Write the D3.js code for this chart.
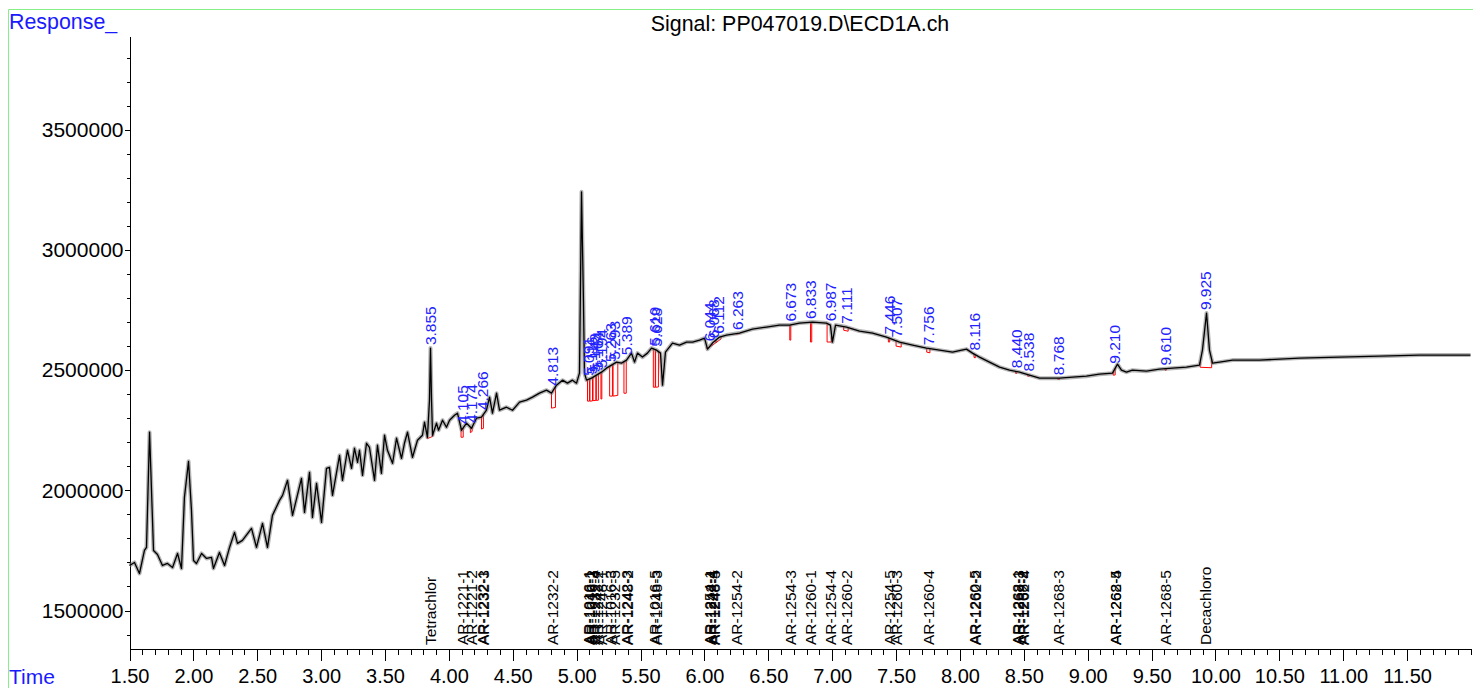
<!DOCTYPE html>
<html lang="en">
<head>
<meta charset="UTF-8">
<title>Signal: PP047019.D\ECD1A.ch</title>
<script src="https://d3js.org/d3.v7.min.js"></script>
<style>
    body {
        margin: 0;
        background: #fff;
    }

    svg {
        display: block;
        font-family: "Liberation Sans", Arial, sans-serif;
    }

    .axis text {
        font-family: "Liberation Sans", Arial, sans-serif;
        font-size: 20px;
        fill: #000;
    }

    .y-axis text {
        font-size: 21px;
    }

    .axis path,
    .axis line {
        stroke: #000;
        shape-rendering: crispEdges;
    }

    .trace {
        fill: none;
        stroke: #000;
        stroke-width: 1.3px;
        stroke-linejoin: round;
    }

    /* grey fuzz around the trace, like the noisy original */
    .trace-halo {
        fill: none;
        stroke: #777;
        stroke-opacity: 0.55;
        stroke-width: 4px;
        stroke-linejoin: round;
    }

    .integration {
        fill: none;
        stroke: #ff0000;
        stroke-width: 1px;
    }

    .rt-label {
        font-size: 15.5px;
        fill: #2222ff;
    }

    .compound-label {
        font-size: 15.5px;
        fill: #000;
    }
</style>
</head>
<body>
<svg id="chart" width="1473" height="688"></svg>

<script>
    // signal trace (time in min, response)
    const timeValues = [
        1.500, 1.539, 1.578, 1.617, 1.633, 1.657, 1.688, 1.719, 1.758, 1.797,
        1.837, 1.876, 1.907, 1.930, 1.962, 1.985, 2.001, 2.024, 2.064, 2.103,
        2.142, 2.157, 2.204, 2.244, 2.283, 2.322, 2.345, 2.384, 2.455, 2.494,
        2.541, 2.580, 2.619, 2.674, 2.698, 2.737, 2.776, 2.846, 2.870, 2.909,
        2.932, 2.964, 3.003, 3.042, 3.065, 3.089, 3.144, 3.167, 3.206, 3.238,
        3.261, 3.285, 3.300, 3.324, 3.355, 3.378, 3.418, 3.441, 3.472, 3.496,
        3.519, 3.559, 3.590, 3.629, 3.652, 3.676, 3.715, 3.754, 3.793, 3.809,
        3.832, 3.848, 3.856, 3.864, 3.872, 3.903, 3.919, 3.950, 3.981, 4.005,
        4.044, 4.067, 4.099, 4.138, 4.177, 4.216, 4.255, 4.294, 4.318, 4.341,
        4.373, 4.396, 4.451, 4.498, 4.553, 4.607, 4.654, 4.709, 4.764, 4.803,
        4.842, 4.889, 4.928, 4.967, 4.999, 5.022, 5.038, 5.053, 5.061, 5.077,
        5.116, 5.155, 5.194, 5.233, 5.273, 5.312, 5.351, 5.390, 5.429, 5.453,
        5.476, 5.515, 5.554, 5.586, 5.625, 5.656, 5.672, 5.695, 5.750, 5.805,
        5.860, 5.907, 5.962, 6.001, 6.024, 6.063, 6.118, 6.173, 6.274, 6.376,
        6.486, 6.588, 6.666, 6.744, 6.846, 6.955, 6.986, 7.002, 7.026, 7.112,
        7.214, 7.316, 7.425, 7.527, 7.629, 7.738, 7.840, 7.942, 8.051, 8.098,
        8.153, 8.231, 8.310, 8.388, 8.466, 8.544, 8.623, 8.701, 8.779, 8.881,
        8.990, 9.092, 9.194, 9.233, 9.264, 9.303, 9.350, 9.460, 9.562, 9.663,
        9.773, 9.875, 9.898, 9.930, 9.953, 9.977, 10.031, 10.133, 10.344, 10.658,
        10.971, 11.284, 11.597, 11.996
    ];
    const responseValues = [
        1687500, 1700000, 1654100, 1750000, 1762500, 2241700, 1750000, 1733300, 1687500, 1695800,
        1679100, 1737500, 1675000, 1970800, 2120800, 1916700, 1708300, 1695800, 1737500, 1716700,
        1720800, 1675000, 1741700, 1687500, 1762500, 1825000, 1779200, 1791700, 1841700, 1762500,
        1862500, 1762500, 1895800, 1958300, 1979200, 2041700, 1895800, 2050000, 1908300, 2075000,
        1887500, 2029200, 1866700, 2091700, 2095800, 1979200, 2145800, 2041700, 2166700, 2091700,
        2175000, 2116700, 2166700, 2062500, 2195800, 2179200, 2041700, 2187500, 2070800, 2229200,
        2166700, 2112500, 2216700, 2133300, 2195800, 2241700, 2137500, 2208300, 2229200, 2283300,
        2220800, 2375000, 2591700, 2375000, 2229200, 2279200, 2250000, 2291700, 2262500, 2291700,
        2312500, 2320800, 2250000, 2279200, 2258300, 2300000, 2304200, 2333300, 2387500, 2320800,
        2404200, 2333300, 2345800, 2333300, 2366700, 2375000, 2387500, 2404200, 2416700, 2404200,
        2437500, 2458300, 2445800, 2458300, 2445800, 2487500, 3241800, 2791700, 2487500, 2458300,
        2466700, 2479200, 2491700, 2508300, 2520800, 2533300, 2529200, 2541700, 2570800, 2533300,
        2570800, 2554200, 2570800, 2591700, 2583300, 2570800, 2437500, 2575000, 2612500, 2604200,
        2616700, 2616700, 2625000, 2633300, 2587500, 2612500, 2637500, 2645800, 2654200, 2670900,
        2679200, 2687500, 2687500, 2695800, 2700000, 2695800, 2687500, 2616700, 2687500, 2679200,
        2662500, 2654200, 2637500, 2616700, 2604200, 2591700, 2583300, 2575000, 2587500, 2570800,
        2554200, 2533300, 2512500, 2500000, 2491700, 2479200, 2466700, 2466700, 2466700, 2470800,
        2475000, 2483300, 2487500, 2525000, 2500000, 2491700, 2500000, 2495800, 2504200, 2508300,
        2512500, 2520800, 2583300, 2737500, 2583300, 2529200, 2533300, 2541700, 2541700, 2550000,
        2554200, 2558300, 2562500, 2562500
    ];

    // integrated peaks: retention time, baseline start/end time and response
    const peakRT = [3.855, 4.105, 4.174, 4.266, 4.813, 5.091, 5.116, 5.143, 5.164, 5.194,
        5.263, 5.293, 5.389, 5.610, 5.628, 6.044, 6.068, 6.112, 6.263, 6.673,
        6.833, 6.987, 7.111, 7.446, 7.507, 7.756, 8.116, 8.440, 8.538, 8.768,
        9.210, 9.610, 9.925];
    const peakStart = [3.830, 4.095, 4.168, 4.255, 4.803, 5.085, 5.104, 5.128, 5.154, 5.190,
        5.258, 5.285, 5.370, 5.600, 5.618, 6.020, 6.060, 6.090, 6.250, 6.668,
        6.830, 6.960, 7.090, 7.440, 7.500, 7.740, 8.110, 8.435, 8.530, 8.765,
        9.200, 9.605, 9.880];
    const peakEnd = [3.875, 4.112, 4.182, 4.270, 4.834, 5.100, 5.124, 5.150, 5.170, 5.197,
        5.280, 5.322, 5.388, 5.615, 5.640, 6.060, 6.090, 6.130, 6.275, 6.676,
        6.840, 6.995, 7.125, 7.450, 7.540, 7.765, 8.120, 8.445, 8.545, 8.780,
        9.215, 9.615, 9.970];
    const baseStart = [2215000, 2221000, 2240000, 2255000, 2342000, 2371000, 2371000, 2373000, 2374000, 2380000,
        2392000, 2392000, 2404000, 2429000, 2429000, 2588000, 2603000, 2614000, 2650000, 2625000,
        2617000, 2617000, 2666000, 2617000, 2600000, 2575000, 2553000, 2487000, 2475000, 2462000,
        2479000, 2500000, 2512000];
    const baseEnd = [2225000, 2221000, 2245000, 2258000, 2345000, 2371000, 2372000, 2374000, 2375000, 2380000,
        2392000, 2395000, 2404000, 2429000, 2430000, 2603000, 2614000, 2630000, 2652000, 2625000,
        2617000, 2617000, 2662000, 2617000, 2596000, 2572000, 2551000, 2486000, 2475000, 2462000,
        2480000, 2500000, 2510000];

    // expected compound windows (bottom labels)
    const compoundNames = ["Tetrachlor", "AR-1221-1", "AR-1221-2", "AR-1232-1", "AR-1232-3", "AR-1232-2",
        "AR-1016-1", "AR-1242-1", "AR-1016-2", "AR-1232-4", "AR-1242-2", "AR-1248-1",
        "AR-1016-3", "AR-1232-5", "AR-1242-3", "AR-1248-2", "AR-1016-5", "AR-1248-3",
        "AR-1254-1", "AR-1242-4", "AR-1248-4", "AR-1248-5", "AR-1254-2", "AR-1254-3",
        "AR-1260-1", "AR-1254-4", "AR-1260-2", "AR-1254-5", "AR-1260-3", "AR-1260-4",
        "AR-1260-5", "AR-1262-2", "AR-1268-1", "AR-1262-3", "AR-1268-2", "AR-1262-4",
        "AR-1268-3", "AR-1262-5", "AR-1268-4", "AR-1268-5", "Decachloro"];
    const compoundRT = [3.855, 4.105, 4.174, 4.266, 4.272, 4.813,
        5.091, 5.100, 5.116, 5.143, 5.164, 5.194,
        5.263, 5.293, 5.389, 5.395, 5.610, 5.628,
        6.044, 6.050, 6.068, 6.080, 6.250, 6.673,
        6.833, 6.987, 7.111, 7.446, 7.507, 7.756,
        8.116, 8.122, 8.450, 8.460, 8.490, 8.495,
        8.768, 9.215, 9.220, 9.610, 9.925];

    // axes
    const xTickValues = [1.5, 2.0, 2.5, 3.0, 3.5, 4.0, 4.5, 5.0, 5.5, 6.0, 6.5, 7.0, 7.5, 8.0, 8.5, 9.0, 9.5, 10.0, 10.5, 11.0, 11.5];
    const xMinorValues = d3.range(15, 121).map(d => d / 10);
    const yTickValues = [1500000, 2000000, 2500000, 3000000, 3500000];
    const yMinorValues = d3.range(14, 39).map(d => d * 100000);

    const svg = d3.select("#chart");

    const x = d3.scaleLinear().domain([1.5, 12.0]).range([129.5, 1471]);
    const y = d3.scaleLinear().domain([1340000, 3890000]).range([649, 36]);

    const trace = timeValues.map((t, i) => ({ t: t, v: responseValues[i] }));

    // linear lookup of the trace at time t
    const bisect = d3.bisector(d => d.t).left;
    function signalAt(t) {
        const i = Math.max(1, Math.min(trace.length - 1, bisect(trace, t)));
        const a = trace[i - 1], b = trace[i];
        const k = (t - a.t) / (b.t - a.t);
        return a.v + (b.v - a.v) * k;
    }
    function apexNear(t) {
        let best = Math.max(signalAt(t - 0.012), signalAt(t + 0.012));
        trace.forEach(d => {
            if (Math.abs(d.t - t) <= 0.012 && d.v > best) best = d.v;
        });
        return best;
    }

    // green frame
    svg.append("line").attr("x1", 8.5).attr("x2", 1473).attr("y1", 9.5).attr("y2", 9.5)
        .attr("stroke", "#88ee88").attr("stroke-width", 1);
    svg.append("line").attr("x1", 8.5).attr("x2", 8.5).attr("y1", 9.5).attr("y2", 688)
        .attr("stroke", "#88ee88").attr("stroke-width", 1);

    // title and axis names
    svg.append("text").attr("x", 800).attr("y", 31).attr("text-anchor", "middle")
        .style("font-size", "21.4px").attr("fill", "#000")
        .text("Signal: PP047019.D\\ECD1A.ch");
    svg.append("text").attr("x", 9).attr("y", 29)
        .style("font-size", "21.4px").attr("fill", "#1a1aff").text("Response_");
    svg.append("text").attr("x", 9).attr("y", 684)
        .style("font-size", "21px").attr("fill", "#1a1aff").text("Time");

    // minor ticks
    svg.append("g").attr("class", "axis").attr("transform", "translate(0,649)")
        .call(d3.axisBottom(x).tickValues(xMinorValues).tickSize(6).tickSizeOuter(0).tickFormat(""))
        .call(g => g.select(".domain").remove());
    svg.append("g").attr("class", "axis").attr("transform", "translate(129.5,0)")
        .call(d3.axisLeft(y).tickValues(yMinorValues).tickSize(3).tickSizeOuter(0).tickFormat(""))
        .call(g => g.select(".domain").remove());

    // major axes
    svg.append("g").attr("class", "axis").attr("transform", "translate(0,649)")
        .call(d3.axisBottom(x).tickValues(xTickValues).tickSize(12).tickSizeOuter(0)
            .tickPadding(8).tickFormat(d3.format(".2f")));
    svg.append("g").attr("class", "axis y-axis").attr("transform", "translate(129.5,0)")
        .call(d3.axisLeft(y).tickValues(yTickValues).tickSize(5).tickSizeOuter(0)
            .tickPadding(1).tickFormat(d3.format("d")));

    // compound labels along the bottom
    svg.append("g").selectAll("text")
        .data(compoundNames)
        .enter().append("text")
        .attr("class", "compound-label")
        .attr("transform", (d, i) => `translate(${x(compoundRT[i])},645) rotate(-90)`)
        .attr("dy", "0.35em")
        .text(d => d);

    // red baselines of integrated peaks
    svg.append("g").selectAll("path")
        .data(peakRT)
        .enter().append("path")
        .attr("class", "integration")
        .attr("d", (d, i) => {
            const t1 = peakStart[i], t2 = peakEnd[i];
            return `M${x(t1)},${y(signalAt(t1))}L${x(t1)},${y(baseStart[i])}` +
                `L${x(t2)},${y(baseEnd[i])}L${x(t2)},${y(signalAt(t2))}`;
        });

    // signal
    const line = d3.line().x(d => x(d.t)).y(d => y(d.v));
    svg.append("path").datum(trace).attr("class", "trace-halo").attr("d", line);
    svg.append("path").datum(trace).attr("class", "trace").attr("d", line);

    // retention time labels
    svg.append("g").selectAll("text")
        .data(peakRT)
        .enter().append("text")
        .attr("class", "rt-label")
        .attr("transform", d => `translate(${x(d)},${y(apexNear(d)) - 3}) rotate(-90)`)
        .attr("dy", "0.35em")
        .text(d => d3.format(".3f")(d));
</script>
</body>
</html>
